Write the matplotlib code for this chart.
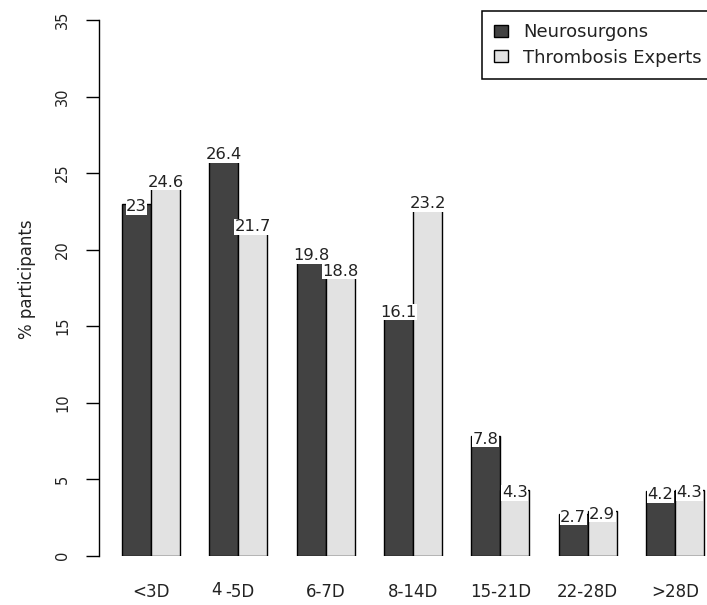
import matplotlib
matplotlib.use("Agg")
import matplotlib.pyplot as plt
from matplotlib.patches import Patch
import numpy as np

# ---- data ----
categories = ["<3D", "4-5D", "6-7D", "8-14D", "15-21D", "22-28D", ">28D"]
series_names = ["Neurosurgons", "Thrombosis Experts"]
neurosurgeons = [23, 26.4, 19.8, 16.1, 7.8, 2.7, 4.2]
thrombosis_experts = [24.6, 21.7, 18.8, 23.2, 4.3, 2.9, 4.3]
y_ticks = [0, 5, 10, 15, 20, 25, 30, 35]

# ---- style ----
dark = "#424242"
light = "#e2e2e2"
txt = "#222222"
plt.rcParams["font.family"] = ["DejaVu Sans"]

W, H = 707, 605
fig = plt.figure(figsize=(W / 100, H / 100), dpi=100)
ax = fig.add_axes([98.7 / W, (H - 555.5) / H, 628.6 / W, 535.5 / H])
ax.set_xlim(0.2, 21.8)
ax.set_ylim(0, 35)

n = len(categories)
group_start = 1 + 3 * np.arange(n)
x_dark = group_start + 0.5
x_light = group_start + 1.5
centers = group_start + 1.0

ax.bar(x_dark, neurosurgeons, width=1.0, color=dark, edgecolor="black",
       linewidth=1.0, zorder=2)
ax.bar(x_light, thrombosis_experts, width=1.0, color=light, edgecolor="black",
       linewidth=1.0, zorder=2)

# value labels with white background boxes
for xs, vals in ((x_dark, neurosurgeons), (x_light, thrombosis_experts)):
    for x, v in zip(xs, vals):
        ax.annotate(f"{v:g}", xy=(x, v), xytext=(0, -5.6), textcoords="offset points",
                    ha="center", va="baseline", fontsize=11.8, color=txt, zorder=4,
                    bbox=dict(facecolor="white", edgecolor="none", pad=0.4))

# spines / axes
for s in ("top", "right", "bottom"):
    ax.spines[s].set_visible(False)
ax.spines["left"].set_linewidth(1.0)
ax.set_yticks(y_ticks)
ax.set_yticklabels([str(t) for t in y_ticks], rotation=90, va="center",
                   fontsize=10.5, color=txt)
ax.tick_params(axis="y", length=9.1, width=1.0, pad=11.5)

ax.set_xticks(centers)
xlabels = [c if c != "4-5D" else "" for c in categories]
ax.set_xticklabels(xlabels, fontsize=12, color=txt, va="top")
ax.tick_params(axis="x", length=0, pad=20)

# the oddly typeset "4 -5D" label
idx = categories.index("4-5D")
first, rest = categories[idx].split("-", 1)
ax.annotate(first, xy=(centers[idx], 0), xytext=(-15.5, -18.6),
            textcoords="offset points", ha="center", va="top",
            fontsize=12, color=txt, annotation_clip=False)
ax.annotate("-" + rest, xy=(centers[idx], 0), xytext=(1.2, -20),
            textcoords="offset points", ha="center", va="top",
            fontsize=12, color=txt, annotation_clip=False)

fig.text(27 / W, 1 - 279 / H, "% participants", rotation=90, ha="center",
         va="center", fontsize=12, color=txt)

handles = [Patch(facecolor=dark, edgecolor="black", linewidth=1.0),
           Patch(facecolor=light, edgecolor="black", linewidth=1.0)]
leg = ax.legend(handles, series_names, loc="upper left",
                bbox_to_anchor=(482 / W, 1 - 11 / H), bbox_transform=fig.transFigure,
                borderaxespad=0, frameon=True, fancybox=False, framealpha=1,
                edgecolor="black", fontsize=13, handlelength=0.75,
                handleheight=0.62, handletextpad=0.85, borderpad=0.68,
                labelspacing=0.41)
leg.get_frame().set_linewidth(1.1)
for t in leg.get_texts():
    t.set_color(txt)

fig.savefig("out.png", dpi=100)
